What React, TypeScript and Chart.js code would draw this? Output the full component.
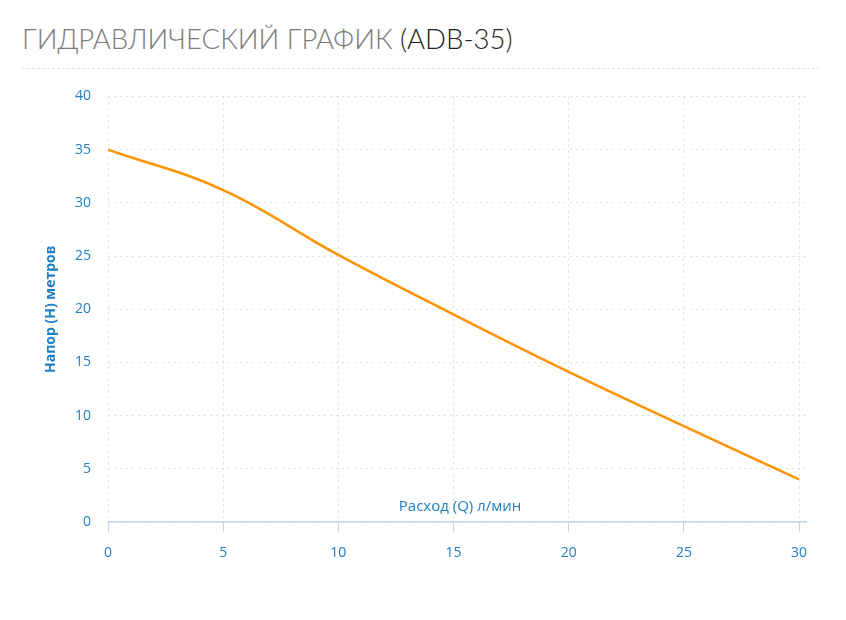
import React, { useEffect, useRef } from "react";
import { Chart, registerables } from "chart.js";

Chart.register(...registerables);

const flow = [0, 5, 10, 15, 20, 25, 30];
const head = [35, 31.2, 25.1, 19.5, 14.1, 9.0, 4.0];
const xTicks = [0, 5, 10, 15, 20, 25, 30];
const yTicks = [0, 5, 10, 15, 20, 25, 30, 35, 40];

const titleMain = "ГИДРАВЛИЧЕСКИЙ ГРАФИК ";
const titleModel = "(ADB-35)";
const xTitle = "Расход (Q) л/мин";
const yTitle = "Напор (H) метров";

const BLUE = "#1f7fc4";
const FONT = "'Open Sans', 'Noto Sans', sans-serif";

const xTitlePlugin = {
  id: "xTitleAbove",
  afterDraw(chart: any) {
    const { ctx, chartArea } = chart;
    ctx.save();
    ctx.font = `15px ${FONT}`;
    ctx.fillStyle = BLUE;
    ctx.textAlign = "center";
    ctx.textBaseline = "middle";
    ctx.fillText(xTitle, (chartArea.left + chartArea.right) / 2 + 3, chartArea.bottom - 15);
    ctx.restore();
  },
};

export default function App() {
  const ref = useRef<HTMLCanvasElement | null>(null);

  useEffect(() => {
    if (!ref.current) return;
    const chart = new Chart(ref.current, {
      type: "line",
      data: {
        datasets: [
          {
            data: flow.map((x, i) => ({ x, y: head[i] })),
            borderColor: "#ff9300",
            borderWidth: 2.5,
            pointRadius: 0,
            tension: 0.4,
            fill: false,
          },
        ],
      },
      options: {
        animation: false,
        responsive: false,
        maintainAspectRatio: false,
        layout: { padding: { left: 0, right: 40, top: 6, bottom: 0 } },
        plugins: { legend: { display: false }, tooltip: { enabled: false } },
        scales: {
          x: {
            type: "linear",
            min: 0,
            max: 30.3,
            afterBuildTicks: (scale: any) => {
              scale.ticks = xTicks.map((v) => ({ value: v }));
            },
            ticks: {
              color: BLUE,
              font: { family: FONT, size: 14 },
              padding: 13,
              maxRotation: 0,
            },
            grid: {
              color: "#dedede",
              lineWidth: 1,
              drawTicks: true,
              tickLength: 10,
              tickColor: "#c3d3ea",
              tickWidth: 1,
              tickBorderDash: [],
            },
            border: { display: true, color: "#c3d3ea", width: 1.5, dash: [2, 4] },
            afterFit: (scale: any) => {
              scale.height = 58;
            },
          },
          y: {
            type: "linear",
            min: 0,
            max: 40,
            afterBuildTicks: (scale: any) => {
              scale.ticks = yTicks.map((v) => ({ value: v }));
            },
            ticks: {
              color: BLUE,
              font: { family: FONT, size: 14 },
              padding: 17,
            },
            grid: { color: "#dedede", lineWidth: 1, drawTicks: false },
            border: { display: false, dash: [2, 4] },
            title: {
              display: true,
              text: yTitle,
              color: BLUE,
              font: { family: FONT, size: 14, weight: "bold" },
              padding: { top: 43, bottom: 0 },
            },
            afterFit: (scale: any) => {
              scale.width = 108;
            },
          },
        },
      },
      plugins: [xTitlePlugin],
    });
    return () => chart.destroy();
  }, []);

  return (
    <div style={{ position: "absolute", left: 0, top: 0, width: 846, height: 620, background: "#fff" }}>
      <div
        style={{
          position: "absolute",
          left: 22,
          top: 19,
          fontFamily: "Lato, 'Open Sans', sans-serif",
          fontWeight: 300,
          fontSize: 27.5,
          color: "#7a7a7a",
          whiteSpace: "nowrap",
          lineHeight: "40px",
        }}
      >
        {titleMain}
        <span style={{ color: "#222" }}>{titleModel}</span>
      </div>
      <div
        style={{
          position: "absolute",
          left: 22,
          top: 68,
          width: 798,
          borderTop: "1px dashed #e3e3e3",
        }}
      />
      <canvas
        ref={ref}
        width={846}
        height={509}
        style={{ position: "absolute", left: 0, top: 71, width: 846, height: 509 }}
      />
    </div>
  );
}
